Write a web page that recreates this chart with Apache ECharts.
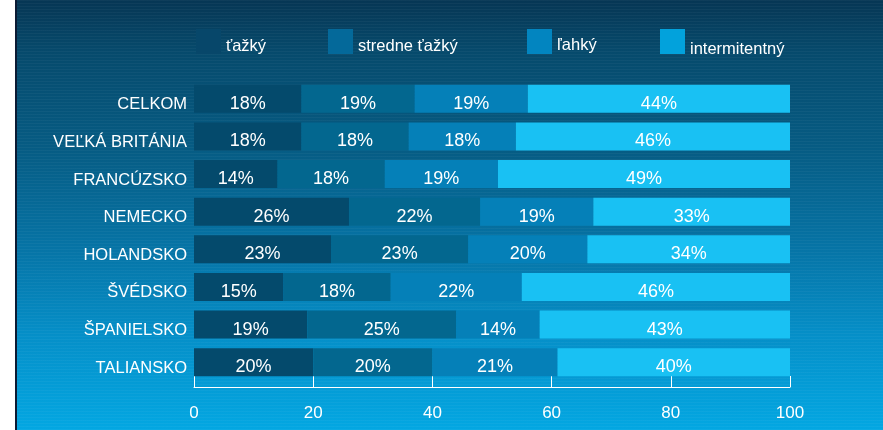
<!DOCTYPE html>
<html>
<head>
<meta charset="utf-8">
<script src="https://cdn.jsdelivr.net/npm/echarts@6/dist/echarts.min.js"></script>
<style>
  html, body { margin: 0; padding: 0; background: #ffffff; }
  #frame {
    position: absolute; left: 15px; top: 0; width: 868px; height: 430px;
    border-left: 2px solid #0b1b34; box-sizing: border-box;
    background: linear-gradient(to bottom, #063654 0%, #064a6c 12%, #065c84 35%, #0674a6 58%, #058fc8 78%, #03a7e2 100%);
  }
  #lines {
    position: absolute; left: 0; top: 0; width: 100%; height: 100%;
    background: repeating-linear-gradient(to bottom, rgba(255,255,255,0.035) 0px, rgba(255,255,255,0.035) 1px, rgba(0,0,0,0) 1px, rgba(0,0,0,0) 3px);
  }
  #chart { position: absolute; left: 0; top: 0; width: 883px; height: 430px; }
</style>
</head>
<body>
<div id="frame"><div id="lines"></div></div>
<div id="chart"></div>
<script>
// Asthma severity split per country (percent of patients)
const countries = ['CELKOM', 'VEĽKÁ BRITÁNIA', 'FRANCÚZSKO', 'NEMECKO', 'HOLANDSKO', 'ŠVÉDSKO', 'ŠPANIELSKO', 'TALIANSKO'];
const severityNames = ['ťažký', 'stredne ťažký', 'ľahký', 'intermitentný'];
const severe       = [18, 18, 14, 26, 23, 15, 19, 20];
const moderate     = [19, 18, 18, 22, 23, 18, 25, 20];
const mild         = [19, 18, 19, 19, 20, 22, 14, 21];
const intermittent = [44, 46, 49, 33, 34, 46, 43, 40];
const xTicks = [0, 20, 40, 60, 80, 100];

const barColors = ['#044a6c', '#03678f', '#0580b8', '#19c1f3'];
const legendColors = ['#07476a', '#04699a', '#0285c0', '#02a2dc'];
const legendLeft = [196, 328, 527, 660];
const legendTextPad = [10, 10, 8, 16];
const valueSets = [severe, moderate, mild, intermittent];

const font = 'Liberation Sans, Arial, sans-serif';

const chart = echarts.init(document.getElementById('chart'), null, { renderer: 'canvas' });

const series = severityNames.map((name, i) => ({
  name: name,
  type: 'bar',
  stack: 'total',
  barWidth: 28,
  clip: true,
  itemStyle: { color: barColors[i] },
  label: {
    show: true,
    position: 'inside',
    offset: [0, 5],
    color: '#ffffff',
    fontFamily: font,
    fontSize: 18,
    formatter: p => p.value + '%'
  },
  emphasis: { disabled: true },
  data: valueSets[i]
}));

// one legend block per severity so each entry sits at its own spot
const legends = severityNames.map((name, i) => ({
  data: [{ name: name, itemStyle: { color: legendColors[i] } }],
  left: legendLeft[i],
  top: 29,
  padding: 0,
  itemWidth: 25,
  itemHeight: 25,
  itemGap: 0,
  icon: 'rect',
  selectedMode: false,
  formatter: n => '{t|' + n + '}',
  textStyle: {
    color: '#ffffff',
    fontFamily: font,
    fontSize: 16.5,
    rich: {
      t: {
        color: '#ffffff',
        fontFamily: font,
        fontSize: 16.5,
        padding: [legendTextPad[i], 0, 0, 0]
      }
    }
  }
}));

chart.setOption({
  animation: false,
  legend: legends,
  grid: { left: 194, right: 93, top: 80, height: 301, containLabel: false },
  xAxis: {
    type: 'value',
    min: 0,
    max: 100,
    interval: 20,
    offset: 6,
    axisLine: { show: true, lineStyle: { color: '#ffffff', width: 1 } },
    axisTick: { show: true, inside: true, length: 11, lineStyle: { color: '#ffffff', width: 1 } },
    splitLine: { show: false },
    axisLabel: {
      color: '#ffffff', fontFamily: font, fontSize: 17, margin: 18,
      customValues: xTicks
    }
  },
  yAxis: {
    type: 'category',
    inverse: true,
    data: countries,
    axisLine: { show: false },
    axisTick: { show: false },
    axisLabel: {
      color: '#ffffff', fontFamily: font, fontSize: 16.5, margin: 7,
      formatter: v => '{c|' + v + '}',
      rich: { c: { color: '#ffffff', fontFamily: font, fontSize: 16.5, padding: [12, 0, 0, 0] } }
    }
  },
  series: series
});
</script>
</body>
</html>
